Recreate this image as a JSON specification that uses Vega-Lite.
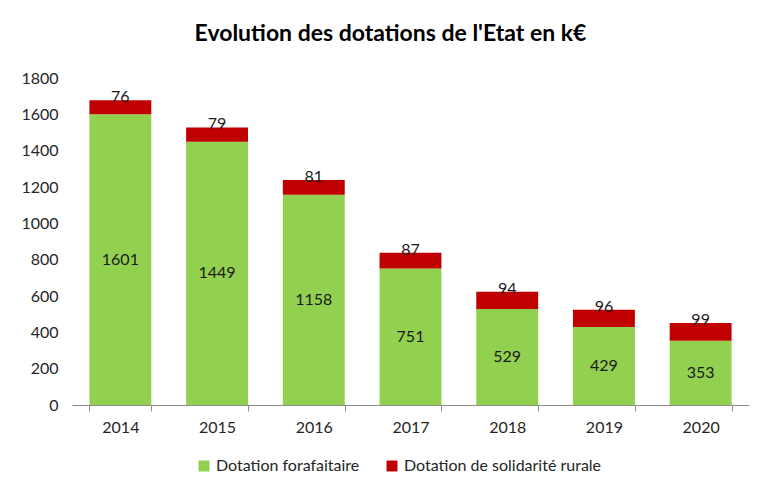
{
  "$schema": "https://vega.github.io/schema/vega-lite/v6.json",
  "width": 677,
  "height": 327,
  "autosize": "none",
  "padding": {"left": 72, "top": 78, "right": 9, "bottom": 87},
  "background": "white",
  "title": {"text": "Evolution des dotations de l'Etat en k€", "font": "Lato", "fontSize": 23, "fontWeight": "bold", "color": "#000000", "anchor": "middle", "dx": -20, "offset": 24},
  "config": {"view": {"stroke": null}, "font": "Lato"},
  "resolve": {"scale": {"y": "independent"}},
  "data": {"values": [
    {"year": "2014", "series": "Dotation forafaitaire", "value": 1601},
    {"year": "2015", "series": "Dotation forafaitaire", "value": 1449},
    {"year": "2016", "series": "Dotation forafaitaire", "value": 1158},
    {"year": "2017", "series": "Dotation forafaitaire", "value": 751},
    {"year": "2018", "series": "Dotation forafaitaire", "value": 529},
    {"year": "2019", "series": "Dotation forafaitaire", "value": 429},
    {"year": "2020", "series": "Dotation forafaitaire", "value": 353},
    {"year": "2014", "series": "Dotation de solidarité rurale", "value": 76},
    {"year": "2015", "series": "Dotation de solidarité rurale", "value": 79},
    {"year": "2016", "series": "Dotation de solidarité rurale", "value": 81},
    {"year": "2017", "series": "Dotation de solidarité rurale", "value": 87},
    {"year": "2018", "series": "Dotation de solidarité rurale", "value": 94},
    {"year": "2019", "series": "Dotation de solidarité rurale", "value": 96},
    {"year": "2020", "series": "Dotation de solidarité rurale", "value": 99}
  ]},
  "encoding": {
    "x": {"field": "year", "type": "ordinal", "title": null,
      "scale": {"paddingInner": 0.36, "paddingOuter": 0.18},
      "axis": {"labelAngle": 0, "labelFontSize": 16, "labelColor": "#262626", "labelPadding": 8, "tickBand": "extent", "ticks": true, "tickSize": 6, "tickColor": "#8c8c8c", "domainColor": "#8c8c8c", "grid": false}}
  },
  "layer": [
    {
      "encoding": {
        "y": {"field": "value", "type": "quantitative", "stack": "zero", "title": null,
          "scale": {"domain": [0, 1800], "nice": false},
          "axis": {"values": [0, 200, 400, 600, 800, 1000, 1200, 1400, 1600, 1800], "tickCount": 10, "format": "d", "labelOverlap": false, "labelSeparation": 0, "labelFontSize": 16, "labelColor": "#262626", "domain": false, "ticks": false, "grid": false, "labelPadding": 14}},
        "order": {"field": "series", "sort": "descending"}
      },
      "layer": [
        {
          "mark": {"type": "bar"},
          "encoding": {
            "color": {"field": "series", "type": "nominal",
              "scale": {"domain": ["Dotation forafaitaire", "Dotation de solidarité rurale"], "range": ["#92D050", "#C00000"]},
              "legend": {"orient": "none", "legendX": 124, "legendY": 380, "direction": "horizontal", "title": null, "symbolType": "square", "symbolSize": 120, "symbolStrokeWidth": 0, "labelFontSize": 16, "labelColor": "#262626", "labelLimit": 400, "columnPadding": 24}}
          }
        },
        {
          "mark": {"type": "text", "fontSize": 16, "color": "#1a1a1a", "baseline": "alphabetic", "dy": 2},
          "encoding": {
            "detail": {"field": "series"},
            "text": {"condition": {"test": "datum.series === 'Dotation de solidarité rurale'", "field": "value"}, "value": ""}
          }
        }
      ]
    },
    {
      "transform": [{"filter": "datum.series === 'Dotation forafaitaire'"}],
      "mark": {"type": "text", "fontSize": 16, "color": "#1a1a1a", "baseline": "middle"},
      "encoding": {
        "y": {"field": "value", "type": "quantitative", "stack": null, "scale": {"domain": [0, 3600], "nice": false}, "axis": null},
        "text": {"field": "value"}
      }
    }
  ]
}
